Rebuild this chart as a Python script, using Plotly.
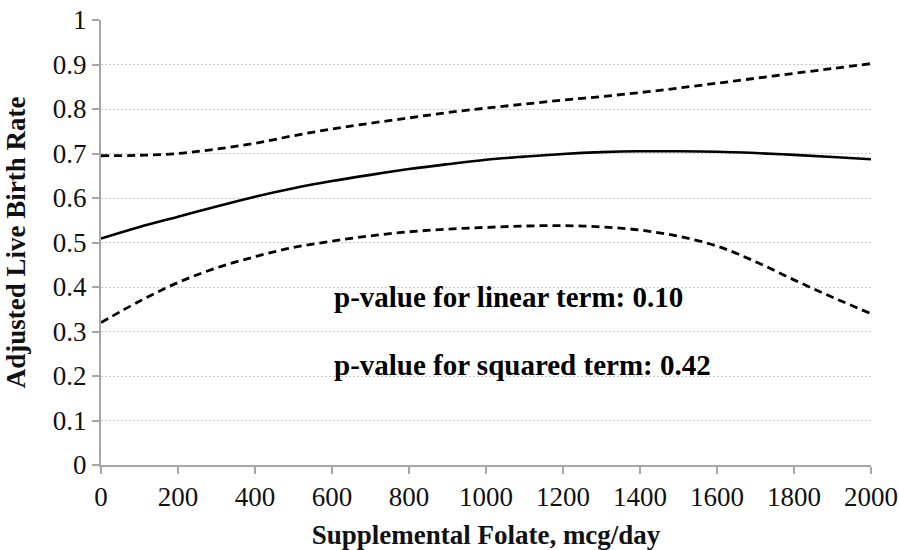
import plotly.graph_objects as go

folate = [0, 100, 200, 300, 400, 500, 600, 700, 800, 900, 1000,
          1100, 1200, 1300, 1400, 1500, 1600, 1700, 1800, 1900, 2000]
estimate = [0.509, 0.535, 0.558, 0.581, 0.603, 0.622, 0.638, 0.652, 0.665, 0.676, 0.686,
            0.693, 0.699, 0.703, 0.705, 0.705, 0.704, 0.701, 0.697, 0.692, 0.687]
upper_ci = [0.695, 0.696, 0.700, 0.710, 0.723, 0.740, 0.755, 0.768, 0.780, 0.792, 0.802,
            0.811, 0.820, 0.828, 0.837, 0.847, 0.858, 0.869, 0.880, 0.891, 0.902]
lower_ci = [0.320, 0.368, 0.410, 0.443, 0.468, 0.489, 0.503, 0.515, 0.524, 0.530, 0.534,
            0.537, 0.538, 0.535, 0.528, 0.514, 0.492, 0.457, 0.416, 0.377, 0.340]

x_ticks = list(range(0, 2001, 200))
y_ticks = [0, 0.1, 0.2, 0.3, 0.4, 0.5, 0.6, 0.7, 0.8, 0.9, 1]
y_tick_labels = ["0", "0.1", "0.2", "0.3", "0.4", "0.5", "0.6", "0.7", "0.8", "0.9", "1"]

notes = ["p-value for linear term: 0.10", "p-value for squared term: 0.42"]
note_x = [600, 600]
note_y = [0.378, 0.225]

FONT = "Liberation Serif, Times New Roman, serif"

fig = go.Figure()
fig.add_trace(go.Scatter(x=folate, y=upper_ci, mode="lines", line_shape="spline",
                         line=dict(color="black", width=2.8, dash="8px,5px"), showlegend=False))
fig.add_trace(go.Scatter(x=folate, y=lower_ci, mode="lines", line_shape="spline",
                         line=dict(color="black", width=2.8, dash="8px,5px"), showlegend=False))
fig.add_trace(go.Scatter(x=folate, y=estimate, mode="lines", line_shape="spline",
                         line=dict(color="black", width=2.6), showlegend=False))

for t, xx, yy in zip(notes, note_x, note_y):
    fig.add_annotation(x=xx, y=yy, text="<b>" + t + "</b>", showarrow=False,
                       xanchor="left", yanchor="middle",
                       font=dict(family=FONT, size=29, color="black"))

fig.update_layout(
    width=899, height=550,
    margin=dict(l=101, r=28, t=20, b=85),
    paper_bgcolor="white", plot_bgcolor="white",
    font=dict(family=FONT, size=27, color="#111"),
)
fig.update_xaxes(
    range=[0, 2000], tickvals=x_ticks, ticktext=[str(v) for v in x_ticks],
    showgrid=False, zeroline=False, automargin=False, ticklabeloverflow="allow",
    showline=True, linecolor="#a6a6a6", linewidth=2,
    ticks="outside", ticklen=7, tickwidth=2, tickcolor="#a6a6a6",
    title=dict(text="<b>Supplemental Folate, mcg/day</b>", font=dict(family=FONT, size=27, color="#111"), standoff=16),
    tickfont=dict(family=FONT, size=27, color="#111"),
)
fig.update_yaxes(
    range=[0, 1], tickvals=y_ticks, ticktext=y_tick_labels,
    showgrid=True, gridcolor="#c8c8c8", gridwidth=1.2, griddash="2px,2px",
    zeroline=False, automargin=False, ticklabeloverflow="allow",
    showline=True, linecolor="#a6a6a6", linewidth=2,
    ticks="outside", ticklen=7, tickwidth=2, tickcolor="#a6a6a6",
    title=dict(text="<b>Adjusted Live Birth Rate</b>", font=dict(family=FONT, size=27, color="#111"), standoff=19),
    tickfont=dict(family=FONT, size=27, color="#111"),
)

fig.write_html("out.html", config={"displayModeBar": False},
               post_script="document.body.style.margin='0';document.body.style.overflow='hidden';")
